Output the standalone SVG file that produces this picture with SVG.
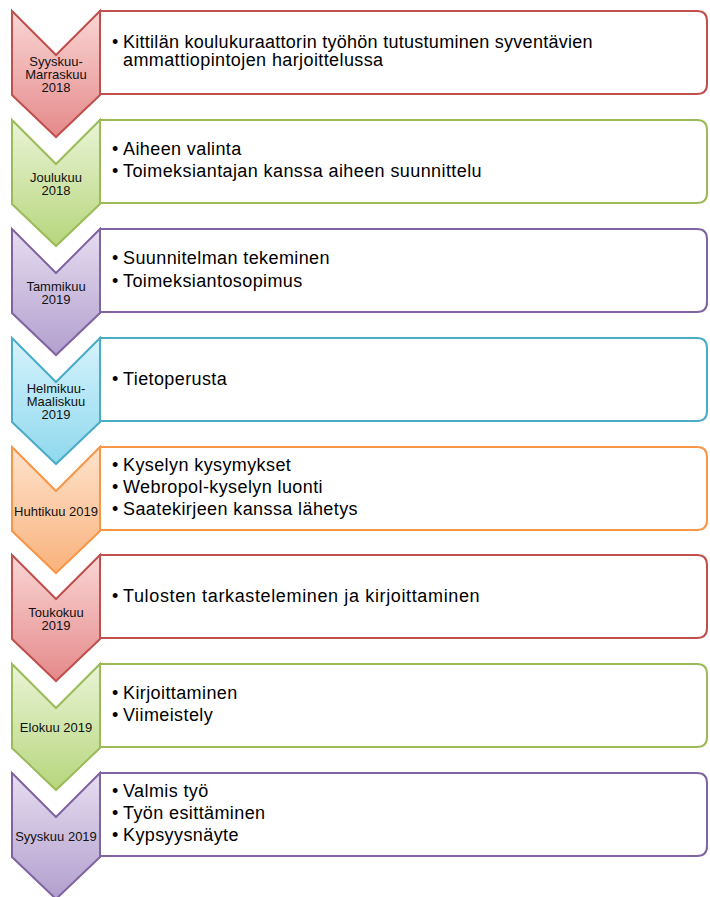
<svg xmlns="http://www.w3.org/2000/svg" width="710" height="897" viewBox="0 0 710 897">
<defs>
<linearGradient id="gRed" x1="0" y1="0" x2="0" y2="1"><stop offset="0" stop-color="#F9D6D5"/><stop offset="1" stop-color="#E5898A"/></linearGradient>
<linearGradient id="gGreen" x1="0" y1="0" x2="0" y2="1"><stop offset="0" stop-color="#EAF4D6"/><stop offset="1" stop-color="#B6D67C"/></linearGradient>
<linearGradient id="gPurple" x1="0" y1="0" x2="0" y2="1"><stop offset="0" stop-color="#E5DDF0"/><stop offset="1" stop-color="#B39FCE"/></linearGradient>
<linearGradient id="gCyan" x1="0" y1="0" x2="0" y2="1"><stop offset="0" stop-color="#D6F3FC"/><stop offset="1" stop-color="#8FD8EE"/></linearGradient>
<linearGradient id="gOrange" x1="0" y1="0" x2="0" y2="1"><stop offset="0" stop-color="#FEE3CC"/><stop offset="1" stop-color="#F9B27C"/></linearGradient>
</defs>
<style>
.box{fill:#fff;stroke-width:2}
.chev{stroke-width:2;stroke-linejoin:miter}
.red .box,.red .chev{stroke:#C0504D}
.red .chev{fill:url(#gRed)}
.green .box,.green .chev{stroke:#9BBB59}
.green .chev{fill:url(#gGreen)}
.purple .box,.purple .chev{stroke:#8064A2}
.purple .chev{fill:url(#gPurple)}
.cyan .box,.cyan .chev{stroke:#4BACC6}
.cyan .chev{fill:url(#gCyan)}
.orange .box,.orange .chev{stroke:#F79646}
.orange .chev{fill:url(#gOrange)}
.lbl{font-family:"Liberation Sans",Arial,sans-serif;font-size:13px;fill:#111;text-anchor:middle}
.txt{font-family:"Liberation Sans",Arial,sans-serif;font-size:18px;letter-spacing:0.4px;fill:#000}
</style>

<g id="step1" class="red">
<path class="box" d="M100,11 H697 Q707,11 707,21 V84 Q707,94 697,94 H100 Z"/>
<path class="chev" d="M12,11 L56,55 L100,11 V95 L56,137 L12,95 Z"/>
<text class="lbl" x="56" y="66">Syyskuu-</text>
<text class="lbl" x="56" y="79">Marraskuu</text>
<text class="lbl" x="56" y="92">2018</text>
<text class="txt" x="112" y="48">•</text>
<text class="txt" x="123" y="48" textLength="470">Kittilän koulukuraattorin työhön tutustuminen syventävien</text>
<text class="txt" x="123" y="66">ammattiopintojen harjoittelussa</text>
</g>

<g id="step2" class="green">
<path class="box" d="M100,120 H697 Q707,120 707,130 V193 Q707,203 697,203 H100 Z"/>
<path class="chev" d="M12,120 L56,164 L100,120 V204 L56,246 L12,204 Z"/>
<text class="lbl" x="56" y="182">Joulukuu</text>
<text class="lbl" x="56" y="195">2018</text>
<text class="txt" x="112" y="155">•</text>
<text class="txt" x="123" y="155">Aiheen valinta</text>
<text class="txt" x="112" y="177">•</text>
<text class="txt" x="123" y="177" textLength="359">Toimeksiantajan kanssa aiheen suunnittelu</text>
</g>

<g id="step3" class="purple">
<path class="box" d="M100,229 H697 Q707,229 707,239 V302 Q707,312 697,312 H100 Z"/>
<path class="chev" d="M12,229 L56,273 L100,229 V313 L56,355 L12,313 Z"/>
<text class="lbl" x="56" y="291">Tammikuu</text>
<text class="lbl" x="56" y="304">2019</text>
<text class="txt" x="112" y="264">•</text>
<text class="txt" x="123" y="264">Suunnitelman tekeminen</text>
<text class="txt" x="112" y="287">•</text>
<text class="txt" x="123" y="287">Toimeksiantosopimus</text>
</g>

<g id="step4" class="cyan">
<path class="box" d="M100,338 H697 Q707,338 707,348 V411 Q707,421 697,421 H100 Z"/>
<path class="chev" d="M12,338 L56,382 L100,338 V422 L56,464 L12,422 Z"/>
<text class="lbl" x="56" y="393">Helmikuu-</text>
<text class="lbl" x="56" y="406">Maaliskuu</text>
<text class="lbl" x="56" y="419">2019</text>
<text class="txt" x="112" y="385">•</text>
<text class="txt" x="123" y="385">Tietoperusta</text>
</g>

<g id="step5" class="orange">
<path class="box" d="M100,447 H697 Q707,447 707,457 V520 Q707,530 697,530 H100 Z"/>
<path class="chev" d="M12,447 L56,491 L100,447 V531 L56,573 L12,531 Z"/>
<text class="lbl" x="56" y="515.5">Huhtikuu 2019</text>
<text class="txt" x="112" y="471">•</text>
<text class="txt" x="123" y="471">Kyselyn kysymykset</text>
<text class="txt" x="112" y="493">•</text>
<text class="txt" x="123" y="493">Webropol-kyselyn luonti</text>
<text class="txt" x="112" y="515">•</text>
<text class="txt" x="123" y="515">Saatekirjeen kanssa lähetys</text>
</g>

<g id="step6" class="red">
<path class="box" d="M100,555 H697 Q707,555 707,565 V628 Q707,638 697,638 H100 Z"/>
<path class="chev" d="M12,555 L56,599 L100,555 V639 L56,681 L12,639 Z"/>
<text class="lbl" x="56" y="617">Toukokuu</text>
<text class="lbl" x="56" y="630">2019</text>
<text class="txt" x="112" y="602">•</text>
<text class="txt" x="123" y="602" textLength="357">Tulosten tarkasteleminen ja kirjoittaminen</text>
</g>

<g id="step7" class="green">
<path class="box" d="M100,664 H697 Q707,664 707,674 V737 Q707,747 697,747 H100 Z"/>
<path class="chev" d="M12,664 L56,708 L100,664 V748 L56,790 L12,748 Z"/>
<text class="lbl" x="56" y="732">Elokuu 2019</text>
<text class="txt" x="112" y="699">•</text>
<text class="txt" x="123" y="699">Kirjoittaminen</text>
<text class="txt" x="112" y="721">•</text>
<text class="txt" x="123" y="721">Viimeistely</text>
</g>

<g id="step8" class="purple">
<path class="box" d="M100,773 H697 Q707,773 707,783 V846 Q707,856 697,856 H100 Z"/>
<path class="chev" d="M12,773 L56,817 L100,773 V857 L56,899 L12,857 Z"/>
<text class="lbl" x="56" y="841">Syyskuu 2019</text>
<text class="txt" x="112" y="797">•</text>
<text class="txt" x="123" y="797">Valmis työ</text>
<text class="txt" x="112" y="819">•</text>
<text class="txt" x="123" y="819">Työn esittäminen</text>
<text class="txt" x="112" y="841">•</text>
<text class="txt" x="123" y="841">Kypsyysnäyte</text>
</g>
</svg>
